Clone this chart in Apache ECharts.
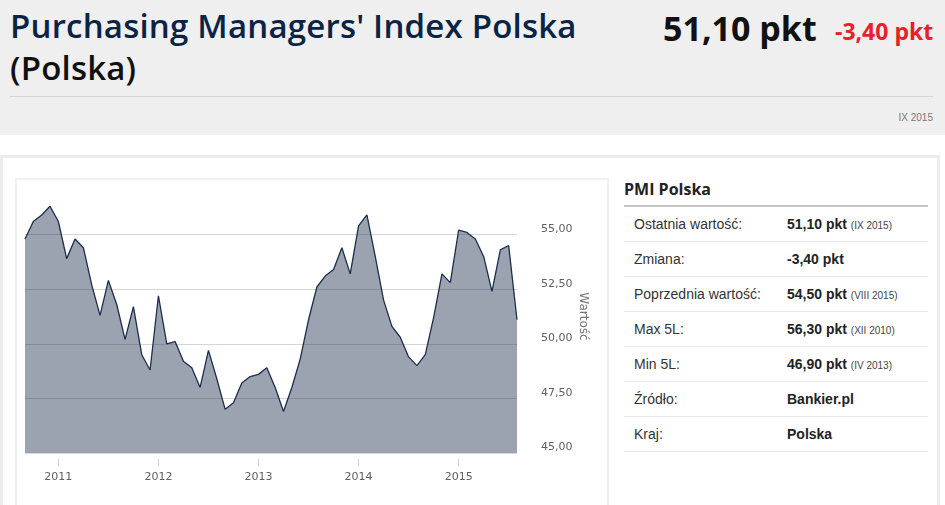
<!DOCTYPE html>
<html>
<head>
<meta charset="utf-8">
<script src="https://cdn.jsdelivr.net/npm/echarts@6/dist/echarts.min.js"></script>
<style>
  html, body { margin: 0; padding: 0; width: 945px; height: 505px; overflow: hidden; background: #fff; }
  .top { position: absolute; left: 0; top: 0; width: 945px; height: 135px; background: #efefef; }
  .title { position: absolute; left: 10px; top: 5px; width: 630px; font: 600 33px/42px "Open Sans", sans-serif; color: #0a2446; letter-spacing: 0.2px; }
  .title span { color: #111; }
  .last { position: absolute; left: 663px; top: 8px; font: bold 34px/40px "Open Sans", sans-serif; color: #111; }
  .chg { position: absolute; left: 835px; top: 17px; font: bold 23px/28px "Open Sans", sans-serif; color: #e8202a; }
  .rule { position: absolute; left: 10px; top: 96px; width: 923px; height: 1px; background: #d6d6d6; }
  .date { position: absolute; right: 12px; top: 112px; font: 10px "Liberation Sans", Arial, sans-serif; color: #777; }
  .panel { position: absolute; left: 0; top: 155px; width: 940px; height: 360px; border: 3px solid #ececec; border-bottom: none; box-sizing: border-box; }
  .box { position: absolute; left: 15px; top: 178px; width: 594px; height: 330px; border: 2px solid #f0f0f0; box-sizing: border-box; }
  #chart { position: absolute; left: 15px; top: 178px; width: 594px; height: 327px; }
  .side { position: absolute; left: 624px; top: 174px; width: 304px; font-family: "Liberation Sans", Arial, sans-serif; }
  .side h3 { margin: 0; font: bold 16px/30px "Open Sans", sans-serif; color: #222; border-bottom: 2px solid #c4c4c4; padding-bottom: 1px; }
  .row { height: 34px; line-height: 34px; border-bottom: 1px solid #e8e8e8; font-size: 14px; color: #333; position: relative; }
  .row .k { position: absolute; left: 10px; }
  .row .v { position: absolute; left: 163px; font-weight: bold; color: #222; }
  .row small { font-weight: normal; font-size: 10px; color: #444; }
</style>
</head>
<body>
<div class="top"></div>
<div class="title">Purchasing Managers' Index Polska <span>(Polska)</span></div>
<div class="last">51,10 pkt</div>
<div class="chg">-3,40 pkt</div>
<div class="rule"></div>
<div class="date">IX 2015</div>
<div class="panel"></div>
<div class="box"></div>
<div id="chart"></div>
<div class="side" id="side"></div>
<script>
// monthly PMI readings, IX 2010 .. VIII 2015 (as plotted)
const months = [
  "2010-09", "2010-10", "2010-11", "2010-12",
  "2011-01", "2011-02", "2011-03", "2011-04", "2011-05", "2011-06", "2011-07", "2011-08", "2011-09", "2011-10", "2011-11", "2011-12",
  "2012-01", "2012-02", "2012-03", "2012-04", "2012-05", "2012-06", "2012-07", "2012-08", "2012-09", "2012-10", "2012-11", "2012-12",
  "2013-01", "2013-02", "2013-03", "2013-04", "2013-05", "2013-06", "2013-07", "2013-08", "2013-09", "2013-10", "2013-11", "2013-12",
  "2014-01", "2014-02", "2014-03", "2014-04", "2014-05", "2014-06", "2014-07", "2014-08", "2014-09", "2014-10", "2014-11", "2014-12",
  "2015-01", "2015-02", "2015-03", "2015-04", "2015-05", "2015-06", "2015-07", "2015-08"
];
const pmi = [
  54.8, 55.6, 55.9, 56.3,
  55.6, 53.9, 54.8, 54.4, 52.7, 51.3, 52.9, 51.8, 50.2, 51.7, 49.5, 48.8,
  52.2, 50.0, 50.1, 49.2, 48.9, 48.0, 49.7, 48.4, 47.0, 47.3, 48.2, 48.5,
  48.6, 48.9, 48.0, 46.9, 48.0, 49.3, 51.1, 52.6, 53.1, 53.4, 54.4, 53.2,
  55.4, 55.9, 54.0, 52.0, 50.8, 50.3, 49.4, 49.0, 49.5, 51.2, 53.2, 52.8,
  55.2, 55.1, 54.8, 54.0, 52.4, 54.3, 54.5, 51.1
];

// side table
const statLabels = ["Ostatnia wartość:", "Zmiana:", "Poprzednia wartość:", "Max 5L:", "Min 5L:", "Źródło:", "Kraj:"];
const statValues = ["51,10 pkt", "-3,40 pkt", "54,50 pkt", "56,30 pkt", "46,90 pkt", "Bankier.pl", "Polska"];
const statDates = ["IX 2015", "", "VIII 2015", "XII 2010", "IV 2013", "", ""];

const sideHTML = statLabels.map((d, i) => {
    const note = statDates[i] ? ` <small>(${statDates[i]})</small>` : "";
    return `<div class="row"><span class="k">${d}</span><span class="v">${statValues[i]}${note}</span></div>`;
}).reduce((acc, cur) => acc + cur, "");
document.getElementById("side").innerHTML = `<h3>PMI Polska</h3>` + sideHTML;

const isJan = (i, v) => v.endsWith("-01");
const fmt = v => v.toFixed(2).replace(".", ",");

const myChart = echarts.init(document.getElementById("chart"));
const option = {
    animation: false,
    grid: { left: 10, right: 92, top: 2, bottom: 52 },
    xAxis: {
        type: "category",
        data: months,
        boundaryGap: false,
        offset: 6,
        axisLine: { show: false },
        axisTick: { interval: isJan, length: 7, lineStyle: { color: "#c9d4e6" } },
        axisLabel: {
            interval: isJan,
            formatter: v => v.slice(0, 4),
            margin: 13,
            color: "#606060",
            fontFamily: "DejaVu Sans",
            fontSize: 11
        }
    },
    yAxis: {
        type: "value",
        position: "right",
        min: 45,
        max: 57.5,
        interval: 2.5,
        name: "Wartość",
        nameLocation: "middle",
        nameRotate: -90,
        nameGap: 60,
        nameMoveOverlap: false,
        nameTextStyle: { color: "#707070", fontFamily: "DejaVu Sans", fontSize: 12 },
        axisLine: { show: false },
        axisTick: { show: false },
        axisLabel: {
            margin: 24,
            showMaxLabel: false,
            verticalAlign: "bottom",
            formatter: fmt,
            color: "#606060",
            fontFamily: "DejaVu Sans",
            fontSize: 11
        },
        splitLine: { showMaxLine: false, lineStyle: { color: "#d6d6d6" } }
    },
    series: [{
        type: "line",
        data: pmi,
        symbol: "none",
        lineStyle: { color: "#1b2d4c", width: 1.3 },
        areaStyle: { color: "#1b2d4c", opacity: 0.44 }
    }]
};
myChart.setOption(option);
</script>
</body>
</html>
